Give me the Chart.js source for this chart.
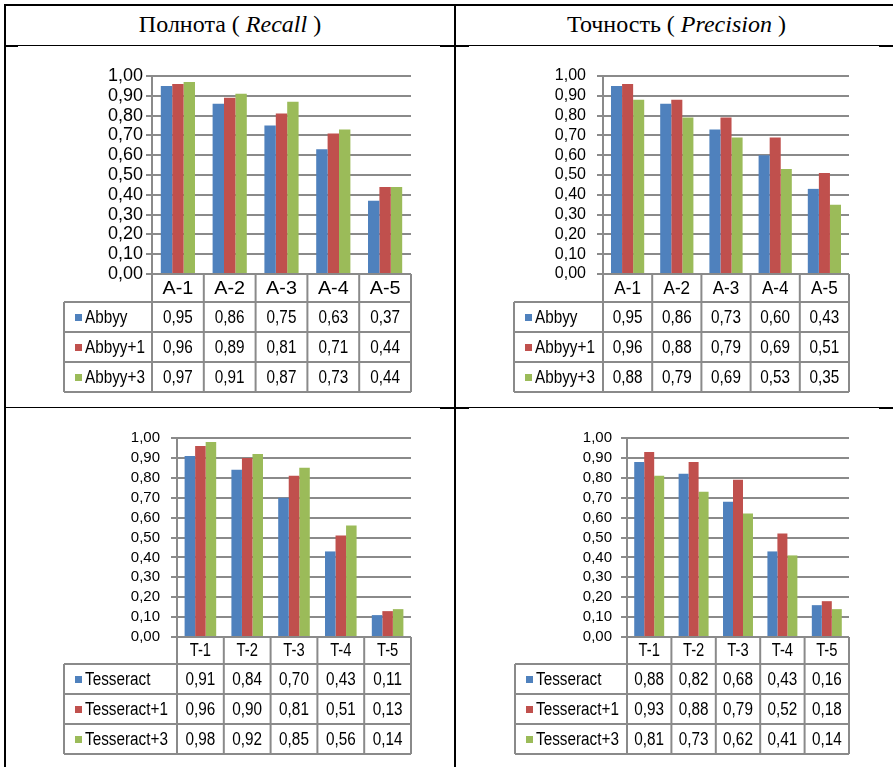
<!DOCTYPE html>
<html>
  <head>
    <meta charset="utf-8" />
    <title>Полнота и точность</title>
    <script src="https://cdn.jsdelivr.net/npm/chart.js"></script>
    <style>
      body {
        margin: 0;
        background: #fff;
        width: 893px;
        height: 767px;
        overflow: hidden;
        position: relative;
        font-family: "Liberation Serif", "Times New Roman", serif;
      }
      .ln {
        position: absolute;
        background: #000;
      }
      .hd {
        position: absolute;
        top: 7px;
        height: 34px;
        line-height: 34px;
        text-align: center;
        font-size: 24px;
        color: #000;
        white-space: nowrap;
      }
      canvas {
        position: absolute;
      }
    </style>

    <script type="text/javascript">
      // ---------------------------------------------
      // data
      var abbyyCats = ["A-1", "A-2", "A-3", "A-4", "A-5"];
      var tessCats = ["T-1", "T-2", "T-3", "T-4", "T-5"];
      var abbyyNames = ["Abbyy", "Abbyy+1", "Abbyy+3"];
      var tessNames = ["Tesseract", "Tesseract+1", "Tesseract+3"];

      var abbyyRecall = [0.95, 0.86, 0.75, 0.63, 0.37];
      var abbyy1Recall = [0.96, 0.89, 0.81, 0.71, 0.44];
      var abbyy3Recall = [0.97, 0.91, 0.87, 0.73, 0.44];

      var abbyyPrecision = [0.95, 0.86, 0.73, 0.6, 0.43];
      var abbyy1Precision = [0.96, 0.88, 0.79, 0.69, 0.51];
      var abbyy3Precision = [0.88, 0.79, 0.69, 0.53, 0.35];

      var tessRecall = [0.91, 0.84, 0.7, 0.43, 0.11];
      var tess1Recall = [0.96, 0.9, 0.81, 0.51, 0.13];
      var tess3Recall = [0.98, 0.92, 0.85, 0.56, 0.14];

      var tessPrecision = [0.88, 0.82, 0.68, 0.43, 0.16];
      var tess1Precision = [0.93, 0.88, 0.79, 0.52, 0.18];
      var tess3Precision = [0.81, 0.73, 0.62, 0.41, 0.14];

      var colors = ["#4F81BD", "#C0504D", "#9BBB59"];
      var lineGrey = "#8a8a8a";

      function fmt(v) {
        return v.toFixed(2).replace(".", ",");
      }

      // text squeezed horizontally, like the narrow Excel font
      function txt(ctx, s, x, y, align, sx) {
        ctx.save();
        ctx.translate(x, y);
        ctx.scale(sx, 1);
        ctx.textAlign = align;
        ctx.fillText(s, 0, 0);
        ctx.restore();
      }

      function line(ctx, x1, y1, x2, y2) {
        ctx.beginPath();
        ctx.moveTo(x1, y1);
        ctx.lineTo(x2, y2);
        ctx.stroke();
      }

      // data table under the bars (Excel style)
      const dataTable = {
        id: "dataTable",
        afterDraw(chart, args, o) {
          var ctx = chart.ctx;
          var a = chart.chartArea;
          var xs = chart.scales.x;
          var cats = chart.data.labels;
          var n = cats.length;
          var w = (a.right - a.left) / n;
          var rows = [a.bottom, a.bottom + o.h0];
          for (var r = 0; r < 3; r++) rows.push(rows[rows.length - 1] + o.h);

          ctx.save();
          ctx.strokeStyle = lineGrey;
          ctx.lineWidth = 2;
          for (var r = 1; r < rows.length; r++)
            line(ctx, o.legendL, rows[r], a.right, rows[r]);
          for (var i = 0; i <= n; i++) {
            var x = a.left + i * w;
            line(ctx, x, rows[0], x, rows[rows.length - 1]);
          }
          line(ctx, o.legendL, rows[1], o.legendL, rows[rows.length - 1]);

          ctx.fillStyle = "#000";
          ctx.textBaseline = "middle";
          ctx.font = o.catSize + "px 'Liberation Sans', Arial";
          for (var i = 0; i < n; i++)
            txt(ctx, cats[i], xs.getPixelForValue(i), (rows[0] + rows[1]) / 2 + 1, "center", o.catSx);

          ctx.font = o.size + "px 'Liberation Sans', Arial";
          chart.data.datasets.forEach(function (ds, d) {
            var cy = (rows[d + 1] + rows[d + 2]) / 2 + 1;
            ctx.fillStyle = ds.backgroundColor;
            ctx.fillRect(o.legendL + 11, cy - 4, 7, 7);
            ctx.fillStyle = "#000";
            txt(ctx, ds.label, o.legendL + 21, cy, "left", o.sx);
            for (var i = 0; i < n; i++)
              txt(ctx, fmt(ds.data[i]), xs.getPixelForValue(i), cy, "center", o.sx);
          });
          ctx.restore();
        },
      };

      // g: canvas box and plot box in page pixels
      function makeChart(cats, names, series, g) {
        var cv = document.createElement("canvas");
        cv.width = g.cw;
        cv.height = g.ch;
        cv.style.left = g.cx + "px";
        cv.style.top = g.cy + "px";
        document.body.appendChild(cv);
        var yw = 70;
        return new Chart(cv, {
          type: "bar",
          data: {
            labels: cats,
            datasets: names.map(function (nm, i) {
              return {
                label: nm,
                data: series[i],
                backgroundColor: colors[i],
                borderWidth: 0,
                barPercentage: 1,
                categoryPercentage: g.cp,
              };
            }),
          },
          options: {
            responsive: false,
            animation: false,
            layout: {
              padding: {
                left: g.L - g.cx - yw,
                right: g.cx + g.cw - g.R,
                top: g.T - g.cy,
                bottom: g.cy + g.ch - g.B,
              },
            },
            plugins: {
              legend: { display: false },
              tooltip: { enabled: false },
              dataTable: {
                legendL: g.legendL - g.cx,
                h0: g.h0,
                h: 30,
                size: 18,
                sx: 0.85,
                catSize: 18,
                catSx: g.catSx,
              },
            },
            scales: {
              x: { display: false },
              y: {
                min: 0,
                max: 1,
                afterFit: function (s) {
                  s.width = yw;
                },
                ticks: {
                  stepSize: 0.1,
                  autoSkip: false,
                  color: "#000",
                  padding: g.tp,
                  font: { family: "'Liberation Sans', Arial", size: g.ts },
                  callback: function (v) {
                    return fmt(v);
                  },
                },
                grid: { color: lineGrey, lineWidth: 2, tickLength: 6 },
                border: { color: lineGrey, width: 2 },
              },
            },
          },
          plugins: [dataTable],
        });
      }

      function start() {
        makeChart(abbyyCats, abbyyNames, [abbyyRecall, abbyy1Recall, abbyy3Recall], {
          cx: 6, cy: 47, cw: 448, ch: 360,
          L: 152, R: 411, T: 76, B: 274, legendL: 64, h0: 28,
          cp: 0.66, ts: 18, tp: 3, catSx: 1.1,
        });
        makeChart(abbyyCats, abbyyNames, [abbyyPrecision, abbyy1Precision, abbyy3Precision], {
          cx: 456, cy: 47, cw: 437, ch: 360,
          L: 603, R: 849, T: 76, B: 274, legendL: 514, h0: 28,
          cp: 0.675, ts: 16, tp: 11, catSx: 0.95,
        });
        makeChart(tessCats, tessNames, [tessRecall, tess1Recall, tess3Recall], {
          cx: 6, cy: 408, cw: 448, ch: 359,
          L: 177, R: 411, T: 438, B: 637, legendL: 64, h0: 27,
          cp: 0.675, ts: 15, tp: 11, catSx: 0.82,
        });
        makeChart(tessCats, tessNames, [tessPrecision, tess1Precision, tess3Precision], {
          cx: 456, cy: 408, cw: 437, ch: 359,
          L: 627, R: 849, T: 438, B: 637, legendL: 515, h0: 27,
          cp: 0.675, ts: 15, tp: 9, catSx: 0.82,
        });
      }
    </script>
  </head>

  <body onLoad="start()">
    <!-- table frame -->
    <div class="ln" style="left: 4px; top: 4px; width: 893px; height: 2px"></div>
    <div class="ln" style="left: 4px; top: 4px; width: 2px; height: 767px"></div>
    <div class="ln" style="left: 454px; top: 4px; width: 2px; height: 767px"></div>
    <div class="ln" style="left: 4px; top: 45px; width: 893px; height: 1px"></div>
    <div class="ln" style="left: 4px; top: 45px; width: 14px; height: 2px"></div>
    <div class="ln" style="left: 440px; top: 45px; width: 29px; height: 2px"></div>
    <div class="ln" style="left: 879px; top: 45px; width: 14px; height: 2px"></div>
    <div class="ln" style="left: 4px; top: 407px; width: 893px; height: 1px"></div>
    <div class="ln" style="left: 440px; top: 407px; width: 29px; height: 2px"></div>
    <div class="ln" style="left: 879px; top: 407px; width: 14px; height: 2px"></div>

    <div class="hd" style="left: 6px; width: 448px">Полнота ( <i>Recall</i> )</div>
    <div class="hd" style="left: 456px; width: 441px">Точность ( <i>Precision</i> )</div>
  </body>
</html>
